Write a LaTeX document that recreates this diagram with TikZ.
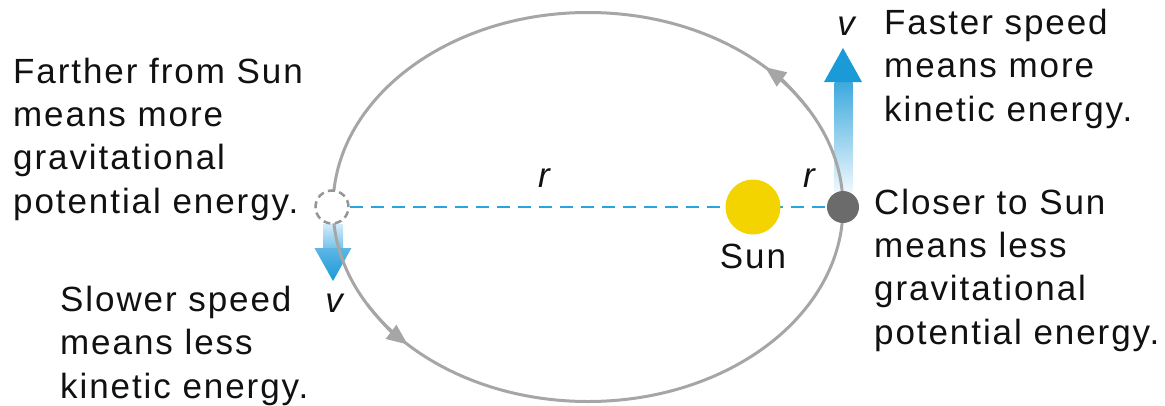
\documentclass[tikz,border=0pt]{standalone}
\usepackage{fontspec}
\setmainfont{Liberation Sans}[LetterSpace=5.5]
\usetikzlibrary{arrows.meta}
\definecolor{orbitgray}{HTML}{A6A6A6}
\definecolor{vblue}{HTML}{1A9AD7}
\definecolor{vbluemid}{HTML}{5DB6E6}
\definecolor{vbluelight}{HTML}{D3ECF9}
\definecolor{vbluepale}{HTML}{EEF8FD}
\definecolor{lineblue}{HTML}{2AA4DE}
\definecolor{sunyellow}{HTML}{F3D300}
\definecolor{planetgray}{HTML}{6B6B6B}
\definecolor{txt}{HTML}{111111}
\begin{document}
\begin{tikzpicture}[x=1pt,y=-1pt,
  lbl/.style={inner sep=0pt, text=txt, font=\fontsize{35}{43.3}\selectfont, align=left, anchor=base west},
  sym/.style={inner sep=0pt, text=txt, font=\fontsize{35}{43.3}\selectfont\itshape, anchor=base},
  orbit/.style={draw=orbitgray, line width=3pt},
  orbittip/.style={orbit, -{Triangle[length=21pt,width=17pt]}},
  ball/.style={circle, inner sep=0pt}]
\useasboundingbox (0,0) rectangle (1165,405);
\clip (0,0) rectangle (1165,405);
% velocity arrows
\shade[top color=vblue!85, bottom color=vbluepale] (834.5,82) rectangle (852.5,191);
\fill[vblue] (824,82) -- (862,82) -- (843,48) -- cycle;
\shade[top color=vbluelight, bottom color=vbluemid!85] (323,224) rectangle (343,248.5);
\shade[top color=vbluemid, bottom color=vblue] (314.5,248) -- (351.5,248) -- (333,281) -- cycle;
% orbit
\draw[orbit] (588,207) ellipse [x radius=255pt, y radius=194.5pt];
\draw[orbittip] (808.8,109.75) arc[start angle=30, end angle=46, x radius=255pt, y radius=194.5pt];
\draw[orbittip] (367.2,304.25) arc[start angle=210, end angle=225, x radius=255pt, y radius=194.5pt];
% bodies
\node[ball, draw=orbitgray!90!black, fill=white, line width=2.5pt, dash pattern=on 7pt off 4.5pt, minimum size=33pt] (aph) at (332,207) {};
\node[ball, fill=planetgray, minimum size=32pt] (planet) at (843,207) {};
\draw[lineblue, line width=2.5pt, dash pattern=on 13pt off 8pt] (aph.east) -- (planet.west);
\node[ball, fill=sunyellow, minimum size=55pt] (sun) at (753,207) {};
% labels (base anchor = baseline of the last line)
\node[lbl] (farther) at (13,213) {Farther from Sun\\means more\\gravitational\\potential energy.};
\node[lbl] (closer) at (874,344) {Closer to Sun\\means less\\gravitational\\potential energy.};
\node[lbl] (faster) at (884,121) {Faster speed\\means more\\kinetic energy.};
\node[lbl] (slower) at (60,398) {Slower speed\\means less\\kinetic energy.};
\node[lbl, anchor=base] (sunlbl) at (753,268) {Sun};
\node[sym] (vtop) at (846,35) {v};
\node[sym] (vbot) at (334,312) {v};
\node[sym] (r1) at (544,187) {r};
\node[sym] (r2) at (809,187) {r};
\end{tikzpicture}
\end{document}
